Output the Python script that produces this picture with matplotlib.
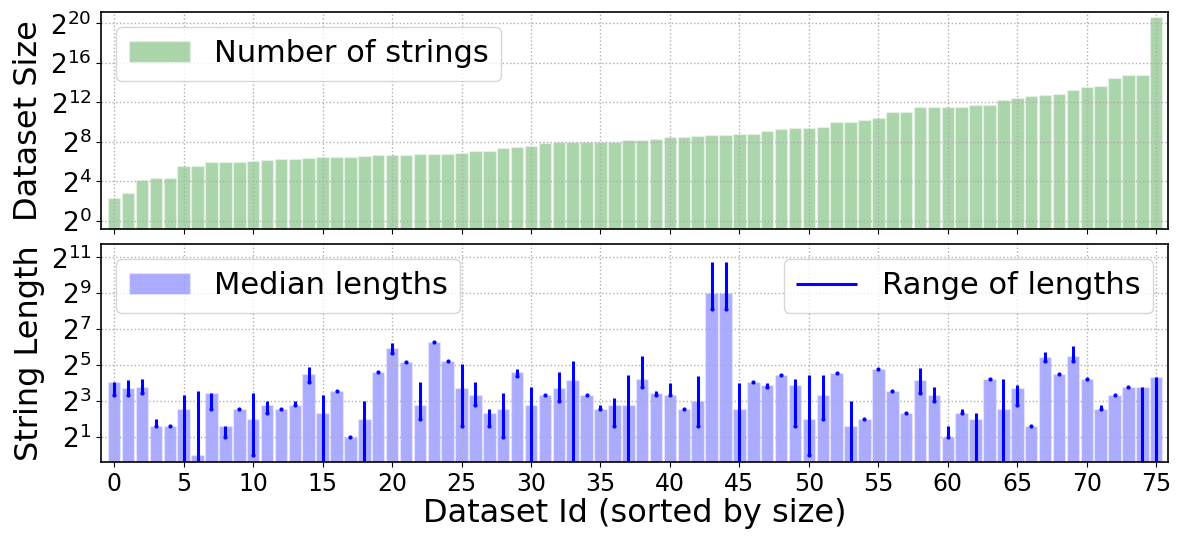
import numpy as np
import matplotlib
matplotlib.use("Agg")
import matplotlib.pyplot as plt
from matplotlib.ticker import FixedLocator, FixedFormatter, NullLocator

# number of strings per dataset (sorted)
n_strings = [5, 7, 18, 20, 20, 46, 46, 60, 60, 60,
             68, 71, 78, 79, 82, 90, 90, 90, 94, 98,
             101, 103, 105, 108, 111, 119, 131, 133, 161, 177,
             194, 234, 250, 250, 250, 250, 250, 282, 296, 311,
             357, 365, 383, 422, 422, 431, 440, 545, 639, 657,
             657, 739, 1000, 1000, 1152, 1389, 2020, 2062, 3000, 3000,
             3000, 3000, 3304, 3444, 4705, 5405, 6516, 6984, 7485, 9474,
             11990, 12850, 22540, 28330, 28330, 1630000]

# string lengths: median, min, max
med_len = [17, 13, 14, 3, 3, 6, 1, 11, 3, 6,
           4, 7, 6, 7, 23, 5, 12, 2, 4, 25,
           61, 36, 7, 79, 38, 13, 10, 5, 6, 25,
           7, 10, 13, 18, 10, 6, 7, 7, 19, 11,
           10, 6, 8, 512, 512, 6, 17, 15, 22, 15,
           4, 10, 24, 3, 4, 28, 12, 5, 18, 10,
           2, 5, 4, 19, 6, 13, 3, 43, 23, 45,
           19, 6, 10, 14, 14, 20]
min_len = [10, 10, 11, 3, 3, 0, 0, 6, 2, 6,
           1, 5, 6, 7, 17, 0, 12, 2, 0, 25,
           52, 36, 4, 79, 38, 3, 7, 3, 2, 21,
           0, 10, 8, 0, 10, 6, 3, 0, 14, 10,
           10, 6, 3, 276, 276, 0, 17, 14, 22, 3,
           1, 4, 24, 0, 4, 28, 12, 5, 11, 8,
           2, 5, 0, 19, 0, 7, 3, 38, 23, 38,
           19, 6, 10, 14, 0, 0]
max_len = [17, 18, 19, 4, 3, 10, 12, 11, 3, 6,
           11, 8, 6, 8, 30, 10, 12, 2, 8, 25,
           75, 36, 17, 79, 38, 33, 17, 6, 11, 28,
           14, 10, 25, 37, 10, 7, 9, 22, 46, 12,
           16, 6, 21, 1710, 1710, 16, 17, 16, 22, 19,
           22, 22, 24, 8, 4, 28, 12, 5, 29, 14,
           3, 6, 5, 19, 19, 15, 3, 54, 23, 68,
           19, 7, 10, 14, 14, 20]

x = np.arange(len(n_strings))
lo = np.array(min_len, dtype=float)
hi = np.array(max_len, dtype=float)

fig = plt.figure(figsize=(11.79, 5.38), dpi=100)
ax1 = fig.add_axes([0.0857, 0.5743, 0.9050, 0.4034])
ax2 = fig.add_axes([0.0857, 0.1413, 0.9050, 0.4052], sharex=ax1)

# top: dataset size
ax1.bar(x, n_strings, width=0.9, color='g', alpha=0.33, edgecolor='white',
        linewidth=1, label='Number of strings')
ax1.set_yscale('log', base=2)
ax1.set_ylim(2 ** -0.84, 2 ** 21.15)
t1 = [0, 4, 8, 12, 16, 20]
ax1.yaxis.set_major_locator(FixedLocator([2.0 ** p for p in t1]))
ax1.yaxis.set_major_formatter(FixedFormatter(['$2^{%d}$' % p for p in t1]))
ax1.yaxis.set_minor_locator(NullLocator())
ax1.set_ylabel('Dataset Size', fontsize=23)
ax1.legend(loc='upper left', fontsize=22)
ax1.tick_params(axis='x', labelbottom=False)

# bottom: string lengths
ax2.bar(x, med_len, width=0.9, color='b', alpha=0.33, edgecolor='white',
        linewidth=1, label='Median lengths')
rng = ax2.vlines(x, lo, hi, colors='blue', linewidth=2.2, label='Range of lengths')
ok = lo > 0
ax2.plot(x[ok], lo[ok], '.', color='blue', markersize=4)
ax2.set_yscale('log', base=2)
ax2.set_ylim(2 ** -0.39, 2 ** 11.74)
t2 = [1, 3, 5, 7, 9, 11]
ax2.yaxis.set_major_locator(FixedLocator([2.0 ** p for p in t2]))
ax2.yaxis.set_major_formatter(FixedFormatter(['$2^{%d}$' % p for p in t2]))
ax2.yaxis.set_minor_locator(NullLocator())
ax2.set_ylabel('String Length', fontsize=23)
ax2.set_xlabel('Dataset Id (sorted by size)', fontsize=23, labelpad=2)
h_bar, l_bar = ax2.get_legend_handles_labels()
leg1 = ax2.legend([h_bar[1]], [l_bar[1]], loc='upper left', fontsize=22)
ax2.add_artist(leg1)
ax2.legend([rng], ['Range of lengths'], loc='upper right', fontsize=22)

ax2.set_xticks(np.arange(0, 76, 5))
ax2.set_xlim(-0.95, 75.85)

for ax in (ax1, ax2):
    ax.grid(True, linestyle=':', linewidth=1)
    ax.tick_params(axis='x', labelsize=17)
    ax.tick_params(axis='y', labelsize=19)
    for s in ax.spines.values():
        s.set_linewidth(1.2)

fig.savefig('out.png', dpi=100)
